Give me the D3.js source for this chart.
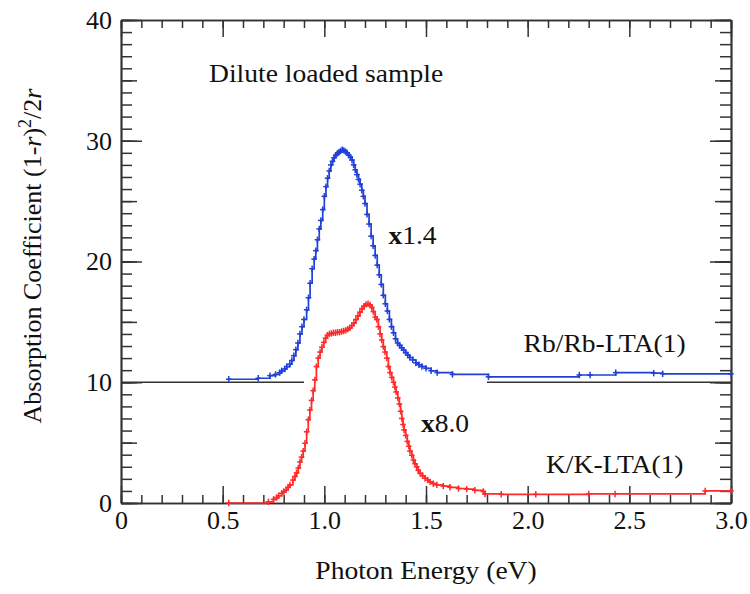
<!DOCTYPE html>
<html>
<head>
<meta charset="utf-8">
<script src="https://cdn.jsdelivr.net/npm/d3@7"></script>
<style>
  html, body { margin: 0; padding: 0; background: #fff; }
  svg { display: block; }
  text { font-family: "Liberation Serif", "Times New Roman", serif; fill: #111; }
</style>
</head>
<body>
<svg id="chart" width="750" height="594"></svg>
<script>
// ---- Data ----
const rbX = [0.53,0.675,0.733,0.76,0.78,0.79,0.805,0.815,0.83,0.84,0.85,0.86,0.87,0.88,0.89,0.9,0.913,0.922,0.93,0.94,0.95,0.958,0.966,0.975,0.983,0.992,1.0,1.008,1.016,1.024,1.032,1.04,1.048,1.056,1.064,1.072,1.08,1.088,1.096,1.104,1.112,1.12,1.128,1.136,1.144,1.152,1.16,1.168,1.176,1.184,1.192,1.2,1.21,1.22,1.23,1.24,1.25,1.26,1.27,1.28,1.29,1.3,1.31,1.32,1.33,1.34,1.35,1.36,1.37,1.38,1.39,1.4,1.41,1.42,1.435,1.45,1.465,1.48,1.5,1.525,1.555,1.63,1.807,2.254,2.307,2.433,2.62,2.664,3.0];
const rbY = [10.25,10.33,10.55,10.65,10.8,10.95,11.1,11.3,11.5,11.8,12.2,12.7,13.25,14.0,14.6,15.2,16.0,17.0,18.2,19.4,20.2,20.9,21.8,22.7,23.4,24.3,25.4,26.2,26.9,27.5,28.0,28.3,28.6,28.8,28.95,29.05,29.15,29.25,29.2,29.1,29.0,28.8,28.65,28.4,28.0,27.6,27.2,26.8,26.4,25.9,25.4,24.8,23.9,23.1,22.1,21.3,20.5,19.7,18.9,18.1,17.2,16.5,15.9,15.2,14.6,14.1,13.6,13.25,13.05,12.85,12.65,12.45,12.25,12.05,11.85,11.6,11.45,11.3,11.15,10.95,10.8,10.65,10.45,10.6,10.6,10.8,10.75,10.7,10.7];

const kX = [0.53,0.725,0.75,0.765,0.775,0.79,0.8,0.812,0.822,0.831,0.845,0.855,0.863,0.872,0.88,0.888,0.896,0.905,0.913,0.921,0.929,0.937,0.945,0.953,0.961,0.97,0.979,0.988,0.997,1.006,1.015,1.025,1.035,1.045,1.055,1.065,1.075,1.085,1.095,1.105,1.115,1.125,1.135,1.145,1.155,1.165,1.175,1.185,1.195,1.205,1.215,1.225,1.233,1.241,1.25,1.258,1.266,1.274,1.282,1.29,1.298,1.307,1.315,1.323,1.331,1.34,1.347,1.353,1.361,1.369,1.375,1.381,1.387,1.392,1.4,1.408,1.415,1.421,1.43,1.438,1.446,1.454,1.462,1.471,1.483,1.495,1.508,1.52,1.536,1.553,1.585,1.618,1.66,1.7,1.74,1.782,1.79,1.87,2.04,2.3,2.43,2.873,3.0];
const kY = [0,0.1,0.3,0.45,0.6,0.8,0.95,1.1,1.3,1.5,1.9,2.2,2.5,2.9,3.4,3.8,4.3,4.95,5.9,6.9,7.7,8.5,9.3,10.2,11.3,12.0,12.5,12.9,13.3,13.65,13.9,14.0,14.05,14.1,14.1,14.15,14.15,14.2,14.25,14.3,14.4,14.5,14.7,14.9,15.2,15.5,15.8,16.1,16.3,16.45,16.5,16.4,16.2,15.85,15.4,15.2,14.6,14.0,13.5,12.95,12.5,12.0,11.3,10.8,10.4,10.0,9.6,9.2,8.7,8.2,7.6,7.0,6.5,6.05,5.6,5.1,4.7,4.3,3.95,3.55,3.25,3.0,2.7,2.45,2.25,2.05,1.9,1.75,1.6,1.5,1.4,1.3,1.2,1.15,1.05,0.95,0.75,0.72,0.72,0.75,0.75,1.0,1.0];

// Horizontal reference segments at the Rb baseline level
const refSegX0 = [0, 1.8];
const refSegX1 = [0.9, 3.0];
const refLevel = 10;

const xTickMajor = [0, 0.5, 1.0, 1.5, 2.0, 2.5, 3.0];
const xTickLabels = ["0", "0.5", "1.0", "1.5", "2.0", "2.5", "3.0"];
const yTickMajor = [0, 10, 20, 30, 40];
const yTickLabels = ["0", "10", "20", "30", "40"];

const annotations = [
  { text: "Dilute loaded sample", x: 0.433, y: 34.9 },
  { text: "Rb/Rb-LTA(1)", x: 1.98, y: 12.5 },
  { text: "K/K-LTA(1)", x: 2.09, y: 2.5 }
];
const factors = [
  { text: "1.4", x: 1.315, y: 21.45 },
  { text: "8.0", x: 1.475, y: 5.9 }
];

// ---- Layout ----
const L = 121, R = 731, T = 20, B = 503;
const svg = d3.select("#chart");
const x = d3.scaleLinear().domain([0, 3]).range([L, R]);
const y = d3.scaleLinear().domain([0, 40]).range([B, T]);

const axisColor = "#333";
const fontSize = 26;
const stretch = 1.06;

function styleAxis(g) {
  g.selectAll("path.domain").attr("stroke", axisColor).attr("stroke-width", 1.5);
  g.selectAll(".tick line").attr("stroke", axisColor).attr("stroke-width", 1.5);
  g.selectAll("text").attr("font-size", fontSize).attr("fill", "#111");
}

const xMinor = d3.range(0, 31).map(i => i / 10);
const yMinor = d3.range(0, 41);
const yMid = d3.range(0, 41, 5);

// bottom axis
svg.append("g").attr("transform", `translate(0,${B})`)
  .call(d3.axisBottom(x).tickValues(xMinor).tickSize(-8).tickFormat("").tickSizeOuter(0)).call(styleAxis);
svg.append("g").attr("transform", `translate(0,${B})`)
  .call(d3.axisBottom(x).tickValues(xTickMajor).tickSize(-17).tickPadding(8).tickSizeOuter(0)
    .tickFormat((d, i) => xTickLabels[i])).call(styleAxis);
// top axis
svg.append("g").attr("transform", `translate(0,${T})`)
  .call(d3.axisTop(x).tickValues(xMinor).tickSize(-8).tickFormat("").tickSizeOuter(0)).call(styleAxis);
svg.append("g").attr("transform", `translate(0,${T})`)
  .call(d3.axisTop(x).tickValues(xTickMajor).tickSize(-17).tickFormat("").tickSizeOuter(0)).call(styleAxis);
// left axis
svg.append("g").attr("transform", `translate(${L},0)`)
  .call(d3.axisLeft(y).tickValues(yMinor).tickSize(-11).tickFormat("").tickSizeOuter(0)).call(styleAxis);
svg.append("g").attr("transform", `translate(${L},0)`)
  .call(d3.axisLeft(y).tickValues(yMid).tickSize(-16).tickFormat("").tickSizeOuter(0)).call(styleAxis);
svg.append("g").attr("transform", `translate(${L},0)`)
  .call(d3.axisLeft(y).tickValues(yTickMajor).tickSize(-21).tickPadding(9).tickSizeOuter(0)
    .tickFormat((d, i) => yTickLabels[i])).call(styleAxis);
// right axis
svg.append("g").attr("transform", `translate(${R},0)`)
  .call(d3.axisRight(y).tickValues(yMinor).tickSize(-11).tickFormat("").tickSizeOuter(0)).call(styleAxis);
svg.append("g").attr("transform", `translate(${R},0)`)
  .call(d3.axisRight(y).tickValues(yMid).tickSize(-16).tickFormat("").tickSizeOuter(0)).call(styleAxis);
svg.append("g").attr("transform", `translate(${R},0)`)
  .call(d3.axisRight(y).tickValues(yTickMajor).tickSize(-21).tickFormat("").tickSizeOuter(0)).call(styleAxis);

// reference lines
svg.append("g").selectAll("line").data(refSegX0).join("line")
  .attr("x1", d => x(d)).attr("x2", (d, i) => x(refSegX1[i]))
  .attr("y1", y(refLevel)).attr("y2", y(refLevel))
  .attr("stroke", "#333").attr("stroke-width", 1.6);

// series
function drawSeries(xs, ys, color) {
  const pts = xs.map((v, i) => [v, ys[i]]);
  const line = d3.line().x(d => x(d[0])).y(d => y(d[1])).curve(d3.curveStepAfter);
  const g = svg.append("g");
  g.append("path").datum(pts).attr("d", line).attr("fill", "none")
    .attr("stroke", color).attr("stroke-width", 1.7);
  const m = g.selectAll("g.m").data(pts).join("g")
    .attr("transform", d => `translate(${x(d[0])},${y(d[1])})`);
  m.append("line").attr("x1", 0).attr("x2", 0).attr("y1", -3.2).attr("y2", 3.2)
    .attr("stroke", color).attr("stroke-width", 1.5);
  m.append("line").attr("x1", -2.8).attr("x2", 2.8).attr("y1", 0).attr("y2", 0)
    .attr("stroke", color).attr("stroke-width", 1.5);
}
drawSeries(rbX, rbY, "#2040d8");
drawSeries(kX, kY, "#ff2a2a");

// annotations
svg.append("g").selectAll("text").data(annotations).join("text")
  .attr("transform", d => `translate(${x(d.x)},${y(d.y)}) scale(${stretch},1)`)
  .attr("font-size", fontSize).text(d => d.text);

const ft = svg.append("g").selectAll("text").data(factors).join("text")
  .attr("transform", d => `translate(${x(d.x)},${y(d.y)}) scale(${stretch},1)`)
  .attr("font-size", fontSize);
ft.append("tspan").attr("font-weight", "bold").text("x");
ft.append("tspan").text(d => d.text);

// axis titles
svg.append("text").attr("transform", `translate(${(L + R) / 2},579) scale(${stretch},1)`)
  .attr("text-anchor", "middle").attr("font-size", fontSize).text("Photon Energy (eV)");

const yt = svg.append("text").attr("transform", "translate(41,256) rotate(-90)")
  .attr("text-anchor", "middle").attr("font-size", fontSize);
yt.append("tspan").text("Absorption Coefficient (1-");
yt.append("tspan").attr("font-style", "italic").text("r");
yt.append("tspan").text(")");
yt.append("tspan").attr("font-size", 18).attr("dy", -10).text("2");
yt.append("tspan").attr("dy", 10).text("/2");
yt.append("tspan").attr("font-style", "italic").text("r");
</script>
</body>
</html>
